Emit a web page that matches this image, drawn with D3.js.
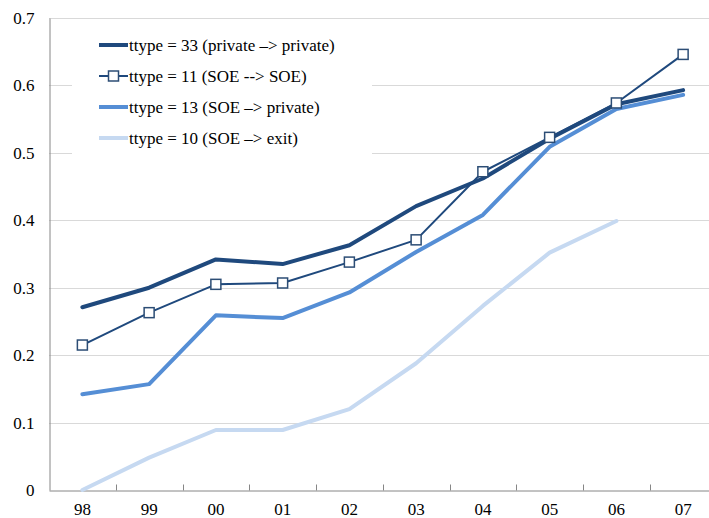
<!DOCTYPE html>
<html>
<head>
<meta charset="utf-8">
<script src="https://cdn.jsdelivr.net/npm/d3@7"></script>
<style>
  html, body { margin: 0; padding: 0; background: #fff; overflow: hidden; }
</style>
</head>
<body>
<svg id="chart" width="709" height="518"></svg>
<script>
// Years (two-digit labels) along the x axis
const years = ["98", "99", "00", "01", "02", "03", "04", "05", "06", "07"];
const yTicks = [0, 0.1, 0.2, 0.3, 0.4, 0.5, 0.6, 0.7];

// Share by transition type
const ttype33 = [0.271, 0.300, 0.342, 0.335, 0.363, 0.421, 0.462, 0.521, 0.572, 0.593];
const ttype11 = [0.215, 0.263, 0.305, 0.307, 0.338, 0.371, 0.472, 0.523, 0.574, 0.646];
const ttype13 = [0.142, 0.157, 0.259, 0.255, 0.293, 0.353, 0.408, 0.509, 0.565, 0.586];
const ttype10 = [0.000, 0.048, 0.089, 0.089, 0.120, 0.188, 0.273, 0.352, 0.399, null];

const seriesNames = [
  "ttype = 33 (private \u2013> private)",
  "ttype = 11 (SOE --> SOE)",
  "ttype = 13 (SOE \u2013> private)",
  "ttype = 10 (SOE \u2013> exit)"
];

const series = [
  { name: seriesNames[0], values: ttype33, color: "#1f497d", width: 4, marker: false },
  { name: seriesNames[1], values: ttype11, color: "#1f497d", width: 2, marker: true  },
  { name: seriesNames[2], values: ttype13, color: "#558ed5", width: 4, marker: false },
  { name: seriesNames[3], values: ttype10, color: "#c6d9f1", width: 4, marker: false }
];

const FONT = "'Liberation Serif'";
const svg = d3.select("#chart");
const margin = { left: 49, top: 18, bottom: 490 };
const plotRight = 716.5;

const x = d3.scaleBand().domain(years).range([margin.left, plotRight]);
const y = d3.scaleLinear().domain([0, 0.7]).range([margin.bottom, margin.top]);

// Horizontal gridlines
svg.append("g")
  .selectAll("line")
  .data(yTicks.filter(d => d > 0))
  .join("line")
  .attr("x1", margin.left).attr("x2", 709)
  .attr("y1", d => Math.round(y(d)) + 0.5).attr("y2", d => Math.round(y(d)) + 0.5)
  .attr("stroke", "#d9d9d9").attr("stroke-width", 1);

// Legend background hides the gridlines behind it
svg.append("rect")
  .attr("x", 72).attr("y", 26).attr("width", 300).attr("height", 140)
  .attr("fill", "#fff");

// Y axis
const yAxis = d3.axisLeft(y).tickValues(yTicks).tickSize(0).tickPadding(15)
  .tickFormat(d => d === 0 ? "0" : d3.format(".1f")(d));
const gy = svg.append("g")
  .attr("transform", `translate(${margin.left + 0.5},0)`)
  .call(yAxis);
gy.select(".domain").attr("stroke", "#868686");
gy.selectAll("text").attr("font-size", 17).attr("fill", "#000")
  .style("font-family", FONT);

// X axis with inward ticks at band boundaries
const xAxis = d3.axisBottom(x).tickSize(0).tickPadding(12);
const gx = svg.append("g")
  .attr("transform", `translate(0,${margin.bottom + 0.5})`)
  .call(xAxis);
gx.select(".domain").attr("stroke", "#868686");
gx.selectAll("text").attr("font-size", 17).attr("fill", "#000")
  .style("font-family", FONT);
gx.append("g")
  .selectAll("line")
  .data(years.slice(1))
  .join("line")
  .attr("x1", d => Math.round(x(d)) + 0.5).attr("x2", d => Math.round(x(d)) + 0.5)
  .attr("y1", 0).attr("y2", -6)
  .attr("stroke", "#868686");

// Series lines
const line = d3.line()
  .defined(d => d.v !== null)
  .x(d => x(d.year) + x.bandwidth() / 2)
  .y(d => y(d.v));

const drawOrder = [3, 2, 0, 1];
drawOrder.forEach(i => {
  const s = series[i];
  const pts = years.map((yr, j) => ({ year: yr, v: s.values[j] }));
  svg.append("path")
    .datum(pts)
    .attr("d", line)
    .attr("fill", "none")
    .attr("stroke", s.color)
    .attr("stroke-width", s.width)
    .attr("stroke-linejoin", "round")
    .attr("stroke-linecap", "round");
  if (s.marker) {
    svg.append("g")
      .selectAll("rect")
      .data(pts.filter(d => d.v !== null))
      .join("rect")
      .attr("x", d => x(d.year) + x.bandwidth() / 2 - 5)
      .attr("y", d => y(d.v) - 5)
      .attr("width", 10).attr("height", 10)
      .attr("fill", "#fff")
      .attr("stroke", "#2c4d75")
      .attr("stroke-width", 1.5);
  }
});

// Legend
const legend = svg.append("g");
series.forEach((s, i) => {
  const ly = 45 + i * 31;
  const g = legend.append("g").attr("transform", `translate(0,${ly})`);
  g.append("line")
    .attr("x1", 99).attr("x2", 128)
    .attr("y1", 0).attr("y2", 0)
    .attr("stroke", s.color)
    .attr("stroke-width", s.width);
  if (s.marker) {
    g.append("rect")
      .attr("x", 108.5).attr("y", -5).attr("width", 10).attr("height", 10)
      .attr("fill", "#fff").attr("stroke", "#2c4d75").attr("stroke-width", 1.5);
  }
  g.append("text")
    .attr("x", 129).attr("y", 0)
    .attr("dy", "0.35em")
    .attr("font-size", 17)
    .attr("fill", "#000")
    .style("font-family", FONT)
    .text(s.name);
});
</script>
</body>
</html>
